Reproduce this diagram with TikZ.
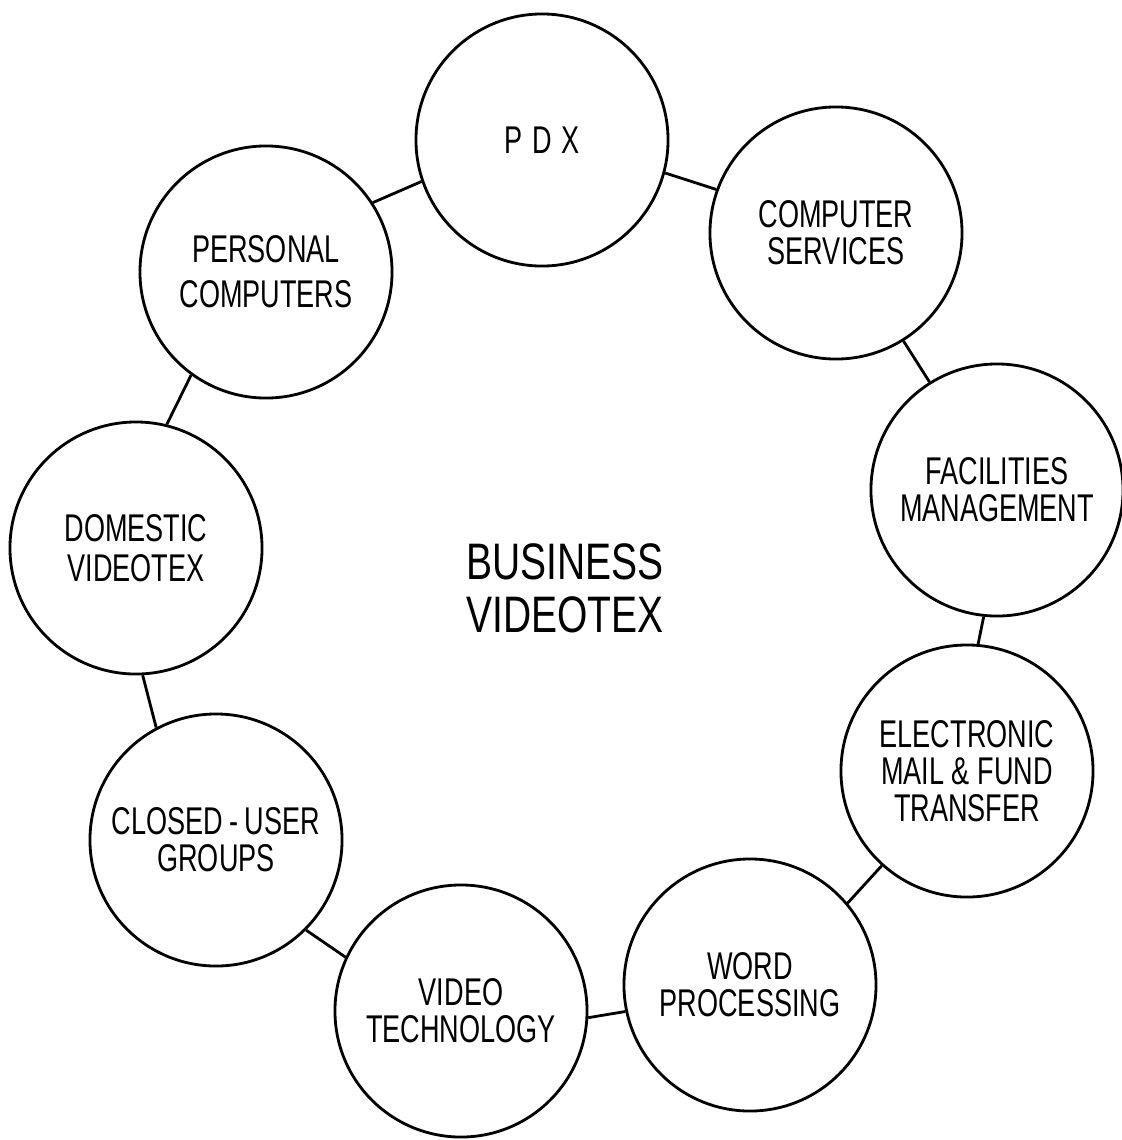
\documentclass[tikz,border=0pt]{standalone}
\usepackage{fontspec}
\setmainfont[FakeStretch=0.70]{Liberation Sans}
\newfontfamily\bigfont[FakeStretch=0.76]{Liberation Sans}
\begin{document}
\begin{tikzpicture}[x=0.025cm,y=-0.025cm,
  topic/.style={draw, circle, line width=2pt, minimum size=6.3cm, inner sep=0pt, align=center,
    font=\fontsize{27.5}{26.5}\selectfont},
  link/.style={line width=2pt}]
\useasboundingbox (0,0) rectangle (1122,1140);
\node[topic] (pdx) at (542,140) {\addfontfeatures{LetterSpace=25}PDX};
\node[topic] (cs) at (836,233) {COMPUTER\\SERVICES};
\node[topic] (fm) at (997,490) {FACILITIES\\MANAGEMENT};
\node[topic] (em) at (967,771) {ELECTRONIC\\MAIL \& FUND\\TRANSFER};
\node[topic] (wp) at (750,985) {WORD\\PROCESSING};
\node[topic] (vt) at (461,1011) {VIDEO\\TECHNOLOGY};
\node[topic] (cu) at (216,840) {CLOSED\,-\,USER\\GROUPS};
\node[topic, font=\fontsize{27.5}{28.5}\selectfont] (dv) at (136,548) {DOMESTIC\\VIDEOTEX};
\node[topic, font=\fontsize{27.5}{32}\selectfont] (pc) at (266,272) {PERSONAL\\COMPUTERS};
\node[font=\bigfont\fontsize{36.5}{37.7}\selectfont, align=center] (bv) at (565,588) {BUSINESS\\VIDEOTEX};
\draw[link] (pc.33) -- (pdx.199);
\draw[link] (pdx.345) -- (cs.160);
\draw[link] (cs.302) -- (fm.122);
\draw[link] (fm.264) -- (em.85);
\draw[link] (em.228) -- (wp.40);
\draw[link] (wp.192) -- (vt.357);
\draw[link] (vt.155) -- (cu.315);
\draw[link] (cu.118) -- (dv.273);
\draw[link] (dv.76) -- (pc.234);
\end{tikzpicture}
\end{document}
